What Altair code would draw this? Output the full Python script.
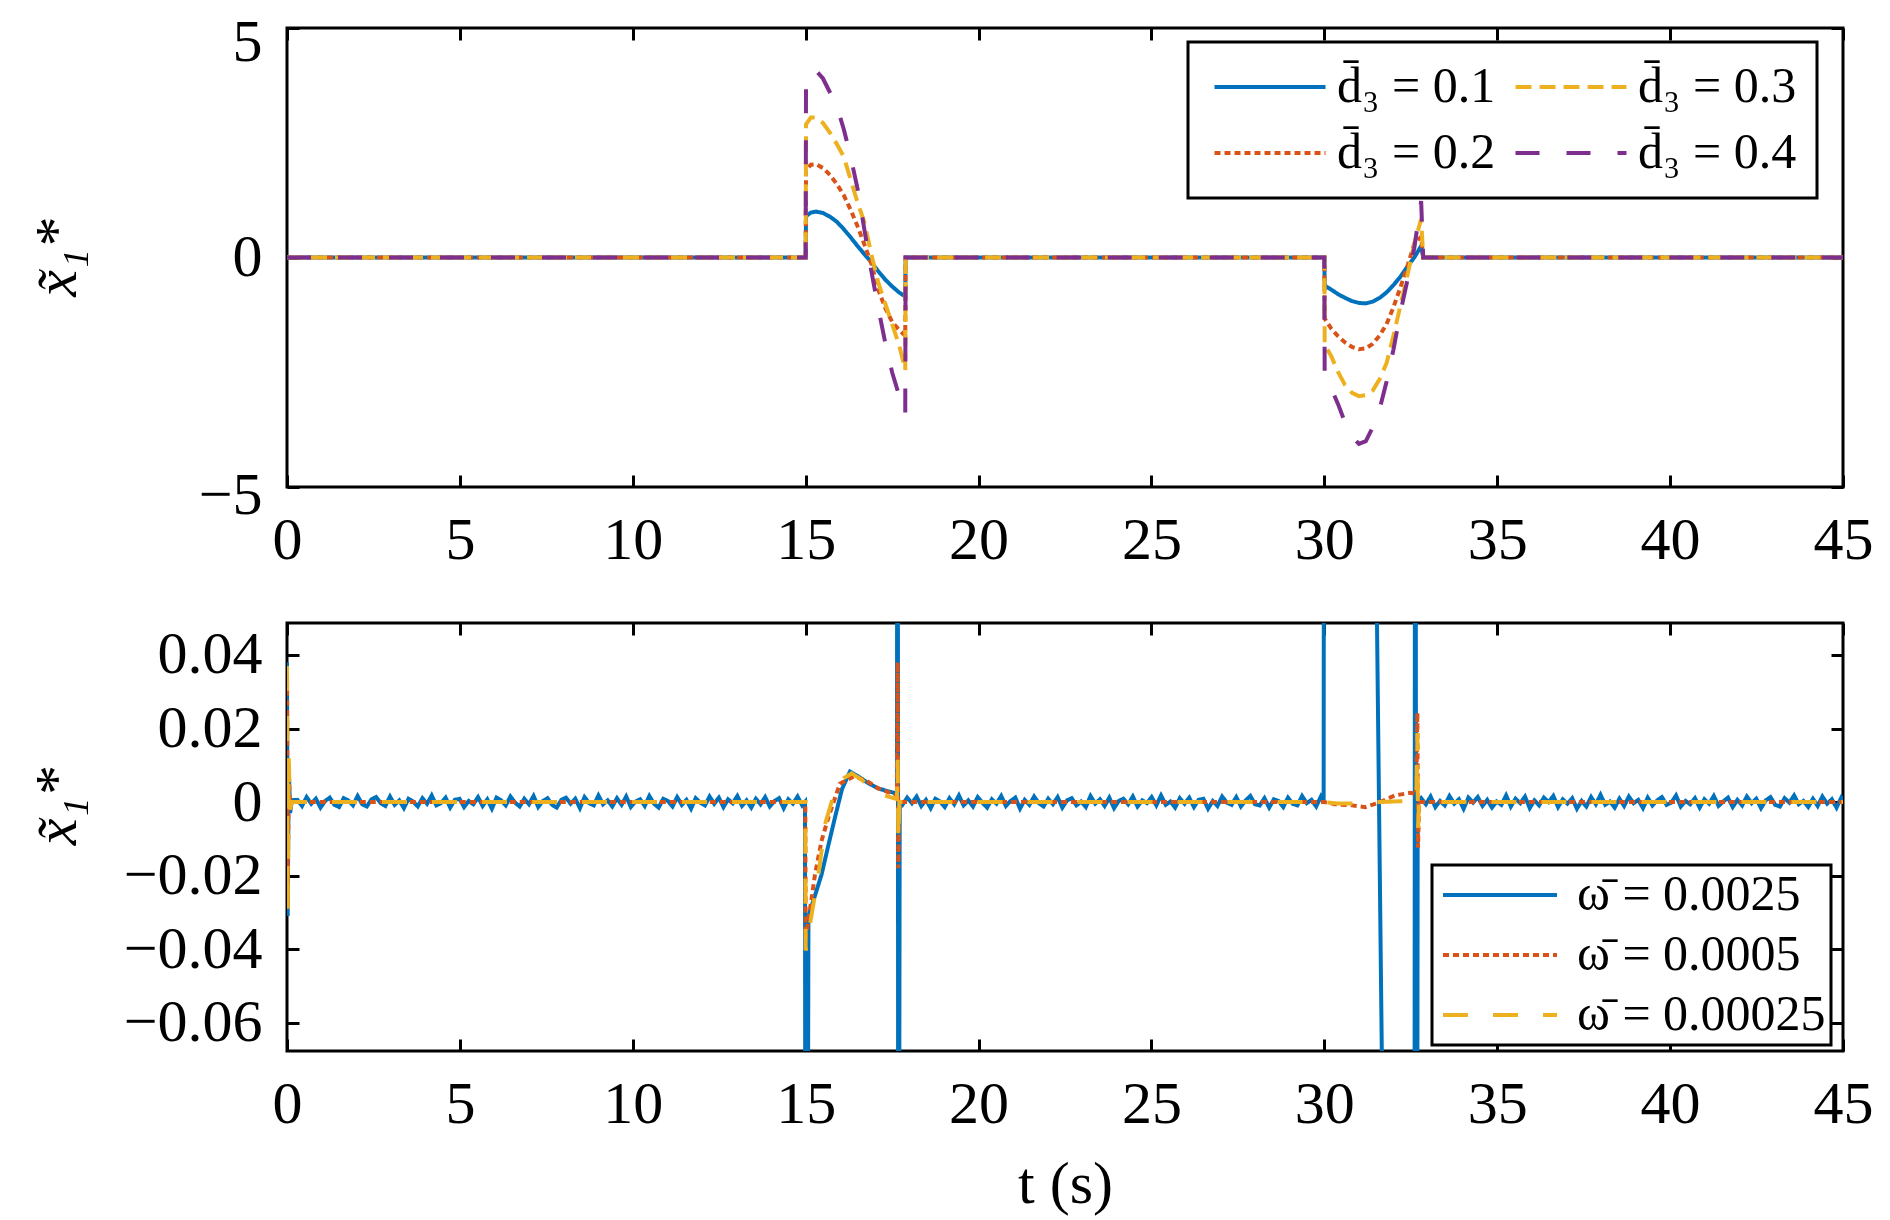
import altair as alt
import numpy as np
import pandas as pd

FONT = "Liberation Serif"
BLUE, ORANGE, YELLOW, PURPLE = "#0072BD", "#D95319", "#EDB120", "#7E2F8E"

# ---------------- axis ticks ----------------
x_ticks = [0, 5, 10, 15, 20, 25, 30, 35, 40, 45]
top_y_ticks = [-5, 0, 5]
bot_y_ticks = [-0.06, -0.04, -0.02, 0, 0.02, 0.04]
top_y_domain = [-5, 5]
bot_y_domain = [-0.0677, 0.0487]

# ---------------- top panel data ----------------
top_labels = ["d\u0304\u2083 = 0.1", "d\u0304\u2083 = 0.2", "d\u0304\u2083 = 0.3", "d\u0304\u2083 = 0.4"]
seg1_t = [15.0, 15.01, 15.15, 15.3, 15.5, 15.7, 15.9, 16.1, 16.3, 16.5, 16.7, 16.9, 17.1, 17.3, 17.5, 17.7, 17.88, 17.89]
seg1_d1 = [0, 0.90, 0.98, 1.00, 0.97, 0.89, 0.78, 0.62, 0.44, 0.25, 0.07, -0.10, -0.30, -0.48, -0.63, -0.76, -0.85, 0]
seg1_d2 = [0, 1.90, 2.02, 2.03, 1.95, 1.80, 1.60, 1.36, 1.04, 0.68, 0.28, -0.14, -0.70, -1.10, -1.40, -1.58, -1.70, 0]
seg1_d3 = [0, 2.90, 3.05, 3.05, 2.93, 2.72, 2.47, 2.20, 1.70, 1.20, 0.76, 0.07, -0.55, -1.00, -1.45, -1.90, -2.45, 0]
seg1_d4 = [0, 3.90, 4.05, 4.07, 3.90, 3.60, 3.30, 2.80, 2.20, 1.50, 0.60, -0.30, -1.10, -1.85, -2.50, -3.00, -3.42, 0]

seg2_t = [30.0, 30.01, 30.2, 30.4, 30.6, 30.8, 31.0, 31.2, 31.4, 31.6, 31.8, 32.0, 32.2, 32.4, 32.6, 32.8, 32.86]
seg2_d1 = [0, -0.61, -0.70, -0.80, -0.88, -0.95, -0.99, -1.00, -0.96, -0.88, -0.76, -0.60, -0.42, -0.20, 0.00, 0.25, 0]
seg2_d2 = [0, -1.33, -1.55, -1.72, -1.85, -1.95, -2.00, -1.98, -1.88, -1.70, -1.45, -1.08, -0.65, -0.20, 0.30, 0.45, 0]
seg2_d3 = [0, -1.90, -2.15, -2.50, -2.78, -2.95, -3.02, -3.00, -2.90, -2.65, -2.30, -1.70, -1.05, -0.40, 0.30, 0.84, 0]
seg2_d4 = [0, -2.60, -2.85, -3.20, -3.60, -3.90, -4.06, -4.00, -3.70, -3.30, -2.70, -2.00, -1.20, -0.50, 0.20, 1.23, 0]

# ---------------- bottom panel data ----------------
bot_labels = ["\u03c9\u0304 = 0.0025", "\u03c9\u0304 = 0.0005", "\u03c9\u0304 = 0.00025"]

# measurement noise of the blue trace (units of 1.5e-4)
noise_a = [4, -7, 9, -3, 6, -10, 2, 8, -5, -9, 7, 3, -6, 11, -4, -8, 5, 9, -2, -7,
           10, -5, 3, -11, 6, 1, -8, 7, -3, 12, -6, -2, 8, -10, 4, 6, -9, 2, -4, 9,
           -7, 5, -12, 8, 3, -6, 10, -1, -8, 6, -4, 11, -9, 2, 7, -5, -10, 4, 8, -3,
           6, -11, 9, -2, -6, 12, -4, 3, -8, 7, -5, 10, -9, 1, 5, -7, 11, -3, -10, 6,
           2, -8, 9, -5, 4, -12, 7, -1, -6, 10, -3, 8, -9, 5, -2, 11, -7, 3, -10, 6,
           -4, 9, -8, 2, 7, -11, 5, -3, 10, -6]
noise_b = [-5, 8, -2, 10, -7, 4, -11, 6, 1, -9, 7, -4, 12, -6, 3, -8, 9, -1, -10, 5,
           -3, 11, -7, 2, 8, -12, 4, -5, 10, -2, -8, 6, -4, 9, -10, 3, 7, -6, 1, -9,
           11, -3, 5, -7, 8, -11, 2, 6, -4, 10, -8, 3, -2, 9, -6, 12, -5, 1, -10, 7,
           -3, 8, -9, 4, 6, -12, 2, -7, 10, -1, -5, 9, -8, 3, 11, -4, -6, 7, -10, 5,
           2, -9, 8, -3, -6, 11, -2, 4, -8, 10]
noise_c = [7, -4, 10, -9, 2, -6, 11, -3, 5, -12, 8, -1, 9, -7, 4, -10, 1, -5, 12, -8,
           6, -2, 10, -11, 3, -6, 8, 0, 11, -9, 5, -3, 7, -12, 2, -8, 9, -4, 13, -5,
           1, -10, 6, -7, 10, -2, 4, -11, 8, -6, 3, 9, -5, -1, 12, -8, 2, -4, 7, -10,
           5, -3, 11, -7, 1, 8, -9, 4, -6, 10, -2, 6, -11, 3, 9, -5, -8, 7, -1, 12,
           -4, 2, -9, 6, -7, 10, -3, 5, -10, 8]

w1_start_t = [0.0, 0.02, 0.05, 0.09, 0.14]
w1_start_v = [0.038, -0.031, 0.010, -0.003, 0.0005]
w1_seg1_t = [14.98, 15.0, 15.03, 15.08, 15.25, 15.46, 15.65, 15.85, 16.05, 16.28, 16.53, 16.8, 17.1, 17.4, 17.64, 17.66, 17.68, 17.72]
w1_seg1_v = [0.0, -0.25, -0.25, -0.031, -0.026, -0.0197, -0.012, -0.0041, 0.0035, 0.0083, 0.0069, 0.0052, 0.0037, 0.0029, 0.0023, 0.25, -0.25, 0.0]
w1_seg2_t = [29.98, 30.0, 31.0, 31.45, 31.73, 32.2, 32.6, 32.63, 32.67, 32.7]
w1_seg2_v = [0.0, 0.25, 0.25, 0.11, -0.125, -0.25, -0.25, 0.25, -0.25, 0.0]

w2_t = [0, 0.02, 0.05, 0.09, 0.14, 14.99, 15.0, 15.13, 15.27, 15.46, 15.66, 15.99, 16.38, 16.72, 17.1, 17.64,
        17.66, 17.68, 17.71, 30.0, 30.31, 30.79, 31.18, 31.56, 32.04, 32.48, 32.66, 32.69, 32.71, 32.74, 45]
w2_v = [0.036, -0.028, 0.008, -0.002, 0, 0, -0.037, -0.0289, -0.0197, -0.0105, -0.0041, 0.005, 0.0069, 0.006, 0.0037, 0.0018,
        0.038, -0.018, 0, 0, -0.0006, -0.0009, -0.0014, -0.0002, 0.0018, 0.0025, 0.0022, 0.0243, -0.0124, 0, 0]

w3_t = [0, 0.02, 0.05, 0.09, 0.14, 14.99, 15.0, 15.17, 15.37, 15.56, 15.85, 16.1, 16.33, 16.6, 17.1, 17.64,
        17.66, 17.68, 17.71, 30.0, 30.4, 31.0, 31.6, 32.2, 32.66, 32.69, 32.71, 32.74, 45]
w3_v = [0.037, -0.030, 0.012, -0.002, 0, 0, -0.0404, -0.0307, -0.0197, -0.006, 0.0032, 0.0065, 0.0078, 0.0062, 0.0023, 0.0008,
        0.0115, -0.0106, 0, 0, -0.0004, -0.0004, 0.0, 0.0002, 0.0003, 0.0188, -0.007, 0, 0]

# ---------------- build tables ----------------
top_rows = []
for lab, s1, s2 in zip(top_labels, [seg1_d1, seg1_d2, seg1_d3, seg1_d4], [seg2_d1, seg2_d2, seg2_d3, seg2_d4]):
    ts = [0.0] + seg1_t + seg2_t + [45.0]
    vs = [0.0] + s1 + s2 + [0.0]
    top_rows += [{"t": t, "v": v, "s": lab} for t, v in zip(ts, vs)]
top_df = pd.DataFrame(top_rows)

NS = 1.5e-4
w1_t = (w1_start_t + list(np.linspace(0.3, 14.9, len(noise_a))) + w1_seg1_t
        + list(np.linspace(17.8, 29.9, len(noise_b))) + w1_seg2_t
        + list(np.linspace(32.8, 44.95, len(noise_c))) + [45.0])
w1_v = (w1_start_v + [n * NS for n in noise_a] + w1_seg1_v
        + [n * NS for n in noise_b] + w1_seg2_v
        + [n * NS for n in noise_c] + [0.0003])
bot_rows = []
for lab, ts, vs in zip(bot_labels, [w1_t, w2_t, w3_t], [w1_v, w2_v, w3_v]):
    bot_rows += [{"t": t, "v": v, "s": lab} for t, v in zip(ts, vs)]
bot_df = pd.DataFrame(bot_rows)

# ---------------- layout ----------------
W = 1556
H1 = 459
H2 = 428


def panel(df, dom, cols, dashes, ydom, yticks, H, leg, ytitle_y, xtitle, lab_off):
    xs = alt.Scale(domain=[0, 45], nice=False, zero=False)
    ys = alt.Scale(domain=ydom, nice=False, zero=False)
    xkw = dict(orient="bottom", values=x_ticks, format="d", labelFlush=False, ticks=False, tickSize=0,
               domain=False, grid=False, labelPadding=24, labelOverlap=False)
    if xtitle:
        xkw.update(title=xtitle, titleY=133, titleBaseline="middle")
    else:
        xkw.update(title=None)
    main = alt.Chart(df).mark_line(strokeWidth=4, clip=True).encode(
        x=alt.X("t:Q", scale=xs, axis=alt.Axis(**xkw)),
        y=alt.Y("v:Q", scale=ys, axis=alt.Axis(
            orient="left", values=yticks, format="~g", ticks=False, tickSize=0, domain=False, grid=False,
            labelPadding=25, labelOverlap=False, labelOffset=lab_off,
            title="x\u0303\u2081*", titleX=-230, titleY=ytitle_y,
            titleAngle=270, titleAlign="center", titleBaseline="middle", titleFontStyle="italic")),
        color=alt.Color("s:N", scale=alt.Scale(domain=dom, range=cols), legend=leg),
        strokeDash=alt.StrokeDash("s:N", scale=alt.Scale(domain=dom, range=dashes), legend=leg),
    )
    dummy = pd.DataFrame({"t": [0.0], "v": [ydom[0]]})
    tk = dict(labels=False, ticks=True, tickSize=12, tickWidth=3, tickColor="black",
              domain=False, grid=False, title=None)
    t2 = alt.Chart(dummy).mark_point(opacity=0).encode(
        x=alt.X("t:Q", scale=xs, axis=alt.Axis(orient="top", offset=-H, values=x_ticks, **tk)),
        y=alt.Y("v:Q", scale=ys, axis=alt.Axis(orient="right", offset=-W, values=yticks, **tk)),
    )
    t3 = alt.Chart(dummy).mark_point(opacity=0).encode(
        x=alt.X("t:Q", scale=xs, axis=alt.Axis(orient="bottom", offset=-H, values=x_ticks, **tk)),
        y=alt.Y("v:Q", scale=ys, axis=alt.Axis(orient="left", offset=-W, values=yticks, **tk)),
    )
    return alt.layer(main, t2, t3).resolve_axis(x="independent", y="independent").properties(width=W, height=H)


top_leg = alt.Legend(orient="none", legendX=901, legendY=14, columns=2, title=None,
                     symbolType="M-1,0H5", symbolSize=1369, symbolStrokeWidth=4,
                     labelFont=FONT, labelFontSize=50, labelColor="black", labelLimit=600, labelOffset=79,
                     padding=20, rowPadding=16, columnPadding=11,
                     strokeColor="black", fillColor="white")
bot_leg = alt.Legend(orient="none", legendX=1145, legendY=242, columns=1, title=None,
                     symbolType="M-1,0H5", symbolSize=1444, symbolStrokeWidth=4,
                     labelFont=FONT, labelFontSize=50, labelColor="black", labelLimit=600, labelOffset=90,
                     padding=5, rowPadding=10,
                     strokeColor="black", fillColor="white")

top_lab_off = {"condition": [{"test": "datum.value == 5", "value": 14},
                             {"test": "datum.value == -5", "value": 8}], "value": 0}
top = panel(top_df, top_labels, [BLUE, ORANGE, YELLOW, PURPLE],
            [[1, 0], [6, 4], [16, 8], [24, 27]],
            top_y_domain, top_y_ticks, H1, top_leg, H1 / 2, None, top_lab_off)
bottom = panel(bot_df, bot_labels, [BLUE, ORANGE, YELLOW],
               [[1, 0], [6, 4], [25, 25]],
               bot_y_domain, bot_y_ticks, H2, bot_leg, 183, "t (s)", 0)

chart = (
    alt.vconcat(top, bottom, spacing=48)
    .resolve_scale(x="independent", y="independent", color="independent", strokeDash="independent")
    .resolve_legend(color="independent", strokeDash="independent")
    .properties(padding={"left": 17, "top": 2, "right": 5, "bottom": 0}, background="white")
    .configure_view(stroke="black", strokeWidth=3)
    .configure_axis(labelFont=FONT, labelFontSize=60, labelColor="black",
                    titleFont=FONT, titleFontSize=60, titleColor="black", titleFontWeight="normal")
    .configure_legend(strokeWidth=3)
)
chart.save("out.html", embed_options={"renderer": "svg", "actions": False})
